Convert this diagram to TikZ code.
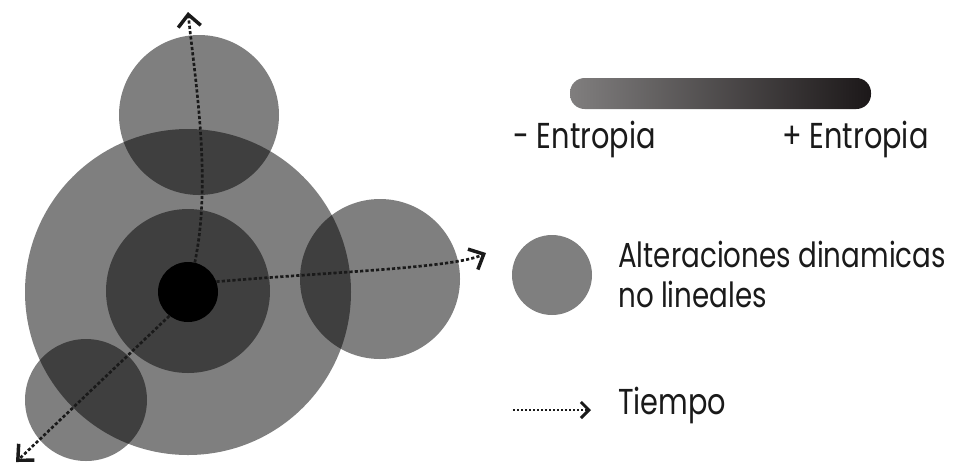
\documentclass[tikz,border=0pt]{standalone}
\usepackage{fontspec}
\setmainfont[FakeStretch=0.8]{Poppins}
\usetikzlibrary{arrows.meta}
\definecolor{entlow}{RGB}{128,126,126}
\definecolor{enthigh}{RGB}{28,24,25}
\definecolor{ink}{RGB}{26,26,26}

\begin{document}
\begin{tikzpicture}[x=0.75pt,y=0.75pt,yscale=-1,xscale=1,
  blob/.style={fill=black,fill opacity=0.5,draw=none},
  timeline/.style={ink,line width=2pt,dash pattern=on 2.4pt off 1.6pt,
    -{Straight Barb[length=9pt,width=17pt,line width=2.6pt]}},
  lbl/.style={anchor=base west,inner sep=0pt,text=ink,font=\fontsize{27}{32}\selectfont}]
\useasboundingbox (0,0) rectangle (956,469);

%Shape: Circle [big]
\path[blob] (188,292) circle (163);
%Shape: Circle [middle]
\path[blob] (188,291) circle (82);
%Shape: Circle [top]
\path[blob] (199,115) circle (80);
%Shape: Circle [right]
\path[blob] (380,279) circle (80);
%Shape: Circle [bottom left]
\path[blob] (86,400) circle (61);
%Shape: Circle [core]
\node[circle,fill=black,inner sep=0pt,minimum size=45pt] (core) at (188,292) {};

% time arrows
\coordinate (up) at (188,12);
\coordinate (right) at (486,253);
\coordinate (down) at (16,462);
\draw[timeline] (core.77) .. controls (212,180) and (195,80) .. (up);
\draw[timeline] (core.20) .. controls (330,272) and (455,268) .. (right);
\draw[timeline] (core.232) -- (down);

%Shape: Rectangle [gradient bar]
\shade[left color=entlow,right color=enthigh,rounded corners=11pt] (570,78) rectangle (871,109);
% Text Node
\node[lbl] (less) at (513,148) {- Entropia};
% Text Node
\node[lbl] (more) at (782,148) {+ Entropia};

%Shape: Circle [legend]
\path[blob] (552,275) circle (40);
% Text Node
\node[lbl,font=\fontsize{26}{31}\selectfont] (alter) at (618,267) {Alteraciones dinamicas};
% Text Node
\node[lbl,font=\fontsize{26}{31}\selectfont] (lineal) at (618,307) {no lineales};

% legend arrow
\coordinate (tstart) at (513,410);
\coordinate (tend) at (591,410);
\draw[timeline,line width=1.5pt,dash pattern=on 1.8pt off 1.2pt,-{Straight Barb[length=6pt,width=12pt,line width=2.2pt]}] (tstart) -- (tend);
% Text Node
\node[lbl] (tiempo) at (618,414) {Tiempo};

\end{tikzpicture}
\end{document}
